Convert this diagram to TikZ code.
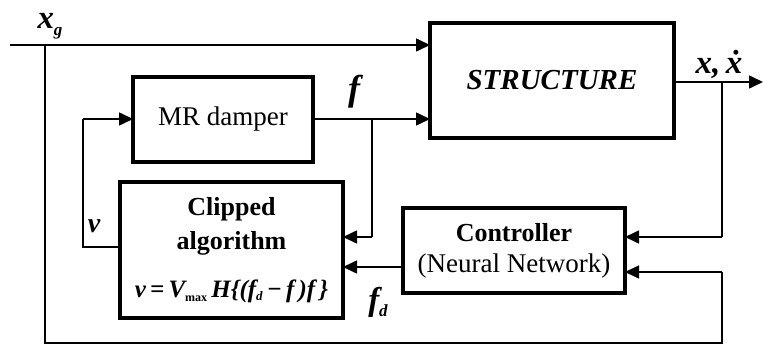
\documentclass[tikz,border=0pt]{standalone}
\usepackage{fontspec}
\setmainfont{Liberation Serif}
\usetikzlibrary{arrows.meta}
\begin{document}
\begin{tikzpicture}[x=1pt,y=-1pt,
  blk/.style={draw, line width=3.8pt, inner sep=0pt, outer sep=0pt, align=center},
  conn/.style={line width=1.6pt},
  arr/.style={conn, -{Triangle[length=14pt,width=13pt]}},
  lbl/.style={inner sep=0pt, font=\fontsize{33}{33}\selectfont\bfseries\itshape},
  txt/.style={inner sep=0pt, align=center}]
\useasboundingbox (0,0) rectangle (763,350);
% blocks
\node[blk, minimum width=244pt, minimum height=115pt,
      font=\fontsize{29}{34}\selectfont\bfseries\itshape] (str) at (552,80.5) {STRUCTURE};
\node[blk, minimum width=180pt, minimum height=85pt,
      font=\fontsize{27}{30}\selectfont] (mr) at (223,119.5) {MR damper};
\node[blk, minimum width=223pt, minimum height=136pt] (clip) at (231.5,250) {};
\node[txt, font=\fontsize{26}{34}\selectfont\bfseries] (clipT) at (231.5,226) {Clipped\\algorithm};
\node[txt, font=\fontsize{25}{25}\selectfont\bfseries\itshape] (clipF) at (231.5,291)
  {v\,=\,V\raisebox{-4pt}{\fontsize{12}{12}\selectfont\upshape max}\,H\{(f\raisebox{-3pt}{\fontsize{13}{13}\selectfont d}\,−\,f\,)f\,\}};
\node[blk, minimum width=222pt, minimum height=85pt,
      font=\fontsize{27}{31}\selectfont] (ctrl) at (514,250.5)
  {{\fontsize{26}{31}\selectfont\bfseries Controller}\\(Neural Network)};
% coordinates
\coordinate (xs) at (10,45);
\coordinate (xj) at (45,45);
\coordinate (xb) at (45,343);
\coordinate (rb) at (722,343);
\coordinate (rt) at (722,272);
\coordinate (fj) at (372,119);
\coordinate (fb) at (372,237);
\coordinate (oj) at (722,82);
\coordinate (oe) at (763,82);
\coordinate (ob) at (722,237);
\coordinate (vl) at (83,247);
\coordinate (vt) at (83,119);
% connectors
\draw[arr] (xs) -- (xs -| str.west);
\draw[conn] (xj) -- (xb) -- (rb) -- (rt);
\draw[arr] (rt) -- (rt -| ctrl.east);
\draw[arr] (mr.east |- fj) -- (fj -| str.west);
\draw[conn] (fj) -- (fb);
\draw[arr] (fb) -- (fb -| clip.east);
\draw[arr] (str.east |- oj) -- (oe);
\draw[conn] (oj) -- (ob);
\draw[arr] (ob) -- (ob -| ctrl.east);
\draw[arr] (ctrl.west |- 0,267) -- (clip.east |- 0,267);
\draw[conn] (clip.west |- vl) -- (vl) -- (vt);
\draw[arr] (vt) -- (vt -| mr.west);
% labels
\node[lbl] (lxg) at (50,26) {x\raisebox{-7pt}{\fontsize{17}{17}\selectfont g}};
\node[lbl, font=\fontsize{36}{36}\selectfont\bfseries\itshape] (lf) at (354,92) {f};
\node[lbl] (lx) at (719,64) {x,\,\.{x}};
\node[lbl, font=\fontsize{28}{28}\selectfont\bfseries\itshape] (lv) at (94,226) {v};
\node[lbl] (lfd) at (378,302) {f\raisebox{-6pt}{\fontsize{17}{17}\selectfont d}};
\end{tikzpicture}
\end{document}
